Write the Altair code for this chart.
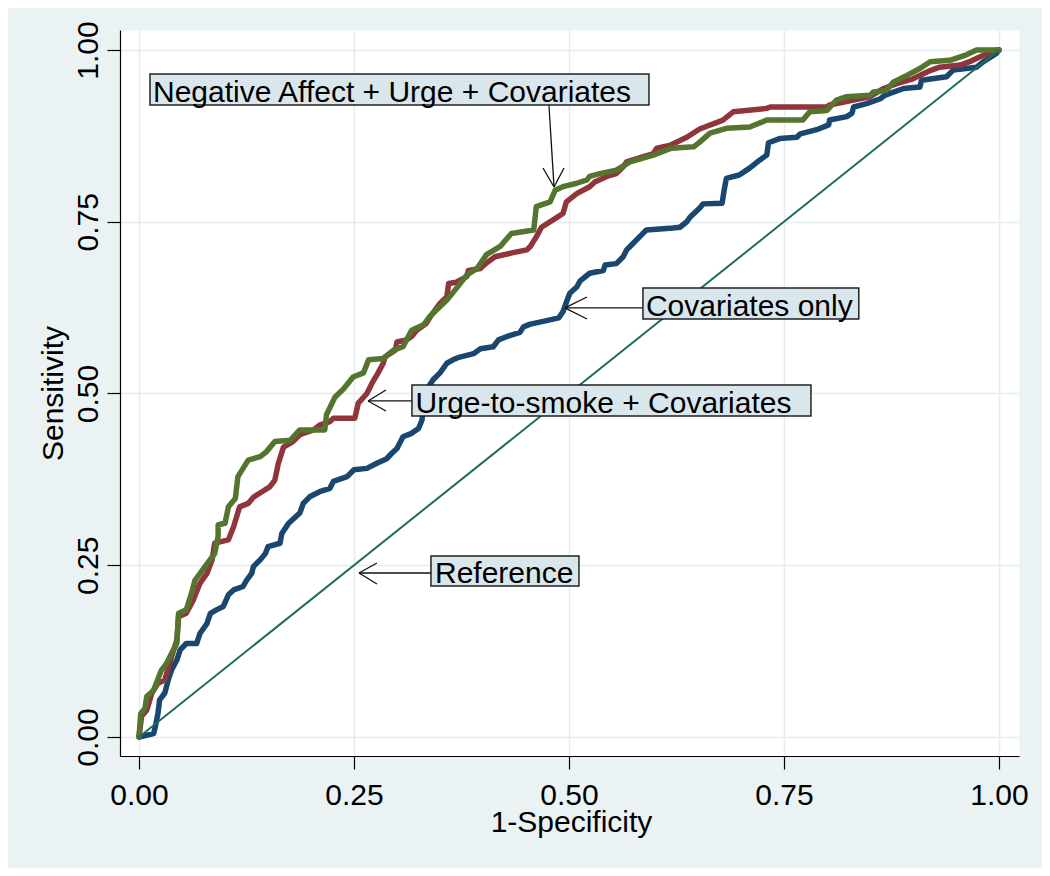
import altair as alt
import pandas as pd

FONT = "Liberation Sans"

# ---- ROC curve data (1-specificity, sensitivity) ----
green_x = [0, 0.002, 0.007, 0.009, 0.017, 0.026, 0.032, 0.038, 0.044, 0.046, 0.055, 0.061, 0.065, 0.071,
           0.079, 0.088, 0.092, 0.092, 0.1, 0.104, 0.112, 0.115, 0.127, 0.141, 0.148, 0.158, 0.176, 0.187,
           0.216, 0.218, 0.228, 0.238, 0.249, 0.261, 0.267, 0.284, 0.296, 0.307, 0.317, 0.331, 0.338, 0.348,
           0.358, 0.369, 0.381, 0.393, 0.404, 0.42, 0.433, 0.459, 0.462, 0.478, 0.484, 0.493, 0.509, 0.521,
           0.524, 0.536, 0.555, 0.571, 0.598, 0.619, 0.645, 0.652, 0.664, 0.683, 0.71, 0.73, 0.772, 0.78,
           0.8, 0.811, 0.823, 0.85, 0.854, 0.869, 0.877, 0.893, 0.908, 0.92, 0.943, 0.962, 0.974, 1.0]
green_y = [0, 0.034, 0.042, 0.059, 0.068, 0.097, 0.107, 0.122, 0.136, 0.18, 0.185, 0.209, 0.228, 0.238,
           0.252, 0.267, 0.292, 0.309, 0.311, 0.335, 0.347, 0.379, 0.403, 0.408, 0.415, 0.43, 0.432, 0.447,
           0.447, 0.469, 0.495, 0.507, 0.524, 0.53, 0.549, 0.551, 0.563, 0.568, 0.592, 0.6, 0.612, 0.624,
           0.636, 0.653, 0.672, 0.682, 0.702, 0.714, 0.733, 0.738, 0.772, 0.779, 0.796, 0.801, 0.806, 0.811,
           0.816, 0.82, 0.825, 0.837, 0.847, 0.857, 0.859, 0.866, 0.879, 0.886, 0.888, 0.898, 0.898, 0.91,
           0.912, 0.927, 0.932, 0.934, 0.939, 0.941, 0.953, 0.963, 0.973, 0.983, 0.985, 0.993, 1.0, 1.0]

red_x = [0, 0.003, 0.009, 0.015, 0.022, 0.03, 0.038, 0.044, 0.046, 0.055, 0.063, 0.071, 0.079, 0.085,
         0.088, 0.094, 0.104, 0.11, 0.117, 0.127, 0.133, 0.143, 0.152, 0.158, 0.162, 0.168, 0.179, 0.187,
         0.203, 0.21, 0.222, 0.226, 0.251, 0.255, 0.265, 0.271, 0.278, 0.284, 0.286, 0.298, 0.3, 0.311,
         0.317, 0.323, 0.334, 0.34, 0.35, 0.358, 0.36, 0.369, 0.381, 0.383, 0.397, 0.404, 0.414, 0.435,
         0.451, 0.455, 0.462, 0.468, 0.482, 0.493, 0.497, 0.509, 0.524, 0.53, 0.544, 0.555, 0.563, 0.567,
         0.579, 0.598, 0.602, 0.617, 0.637, 0.652, 0.679, 0.691, 0.73, 0.734, 0.8, 0.803, 0.831, 0.838,
         0.85, 0.866, 0.881, 0.9, 0.92, 0.931, 0.955, 0.966, 0.978, 0.986, 0.997, 1.0]
red_y = [0, 0.03, 0.039, 0.064, 0.078, 0.083, 0.117, 0.141, 0.175, 0.18, 0.199, 0.224, 0.238, 0.258,
         0.282, 0.284, 0.287, 0.306, 0.335, 0.34, 0.349, 0.357, 0.364, 0.374, 0.398, 0.422, 0.43, 0.44,
         0.447, 0.454, 0.459, 0.464, 0.464, 0.486, 0.5, 0.515, 0.53, 0.544, 0.553, 0.563, 0.575, 0.578,
         0.583, 0.592, 0.602, 0.614, 0.631, 0.641, 0.66, 0.662, 0.67, 0.679, 0.682, 0.69, 0.699, 0.705,
         0.709, 0.714, 0.728, 0.742, 0.753, 0.762, 0.779, 0.791, 0.801, 0.808, 0.816, 0.82, 0.83, 0.837,
         0.842, 0.849, 0.857, 0.861, 0.873, 0.885, 0.898, 0.91, 0.915, 0.917, 0.917, 0.92, 0.927, 0.929,
         0.932, 0.944, 0.951, 0.958, 0.97, 0.975, 0.978, 0.983, 0.99, 0.995, 1.0, 1.0]

blue_x = [0, 0.017, 0.019, 0.022, 0.024, 0.03, 0.034, 0.038, 0.044, 0.048, 0.055, 0.067, 0.071, 0.079,
          0.083, 0.09, 0.098, 0.104, 0.11, 0.121, 0.125, 0.131, 0.133, 0.141, 0.147, 0.15, 0.164, 0.166,
          0.174, 0.187, 0.191, 0.199, 0.21, 0.222, 0.226, 0.242, 0.25, 0.265, 0.276, 0.288, 0.294, 0.3,
          0.307, 0.317, 0.325, 0.329, 0.331, 0.334, 0.342, 0.35, 0.358, 0.365, 0.373, 0.389, 0.397, 0.412,
          0.418, 0.428, 0.443, 0.447, 0.455, 0.474, 0.488, 0.493, 0.497, 0.501, 0.509, 0.513, 0.524, 0.54,
          0.542, 0.555, 0.563, 0.567, 0.571, 0.586, 0.59, 0.621, 0.629, 0.637, 0.641, 0.652, 0.656, 0.678,
          0.681, 0.683, 0.698, 0.71, 0.722, 0.73, 0.732, 0.745, 0.765, 0.769, 0.788, 0.802, 0.803, 0.823,
          0.829, 0.831, 0.846, 0.862, 0.867, 0.889, 0.908, 0.91, 0.939, 0.947, 0.974, 0.982, 0.997, 1.0]
blue_y = [0, 0.005, 0.015, 0.034, 0.054, 0.064, 0.083, 0.098, 0.112, 0.127, 0.136, 0.136, 0.151, 0.165,
          0.18, 0.185, 0.19, 0.207, 0.214, 0.219, 0.228, 0.238, 0.248, 0.258, 0.267, 0.277, 0.282, 0.296,
          0.311, 0.326, 0.34, 0.35, 0.357, 0.362, 0.372, 0.379, 0.389, 0.391, 0.398, 0.405, 0.413, 0.42,
          0.437, 0.442, 0.449, 0.461, 0.481, 0.505, 0.52, 0.53, 0.544, 0.549, 0.553, 0.558, 0.565, 0.568,
          0.578, 0.583, 0.589, 0.597, 0.601, 0.606, 0.61, 0.619, 0.633, 0.646, 0.655, 0.664, 0.675, 0.679,
          0.687, 0.689, 0.699, 0.709, 0.714, 0.733, 0.738, 0.741, 0.742, 0.75, 0.757, 0.77, 0.776, 0.777,
          0.8, 0.813, 0.818, 0.828, 0.84, 0.847, 0.865, 0.871, 0.873, 0.878, 0.884, 0.891, 0.898, 0.903,
          0.908, 0.917, 0.922, 0.929, 0.934, 0.944, 0.946, 0.956, 0.961, 0.971, 0.975, 0.983, 0.995, 1.0]

ref_x = [0, 1]
ref_y = [0, 1]

tick_values = [0, 0.25, 0.5, 0.75, 1.0]

# ---- annotations ----
label_text = ["Negative Affect + Urge + Covariates", "Covariates only",
              "Urge-to-smoke + Covariates", "Reference"]
label_x = [0.0163, 0.5895, 0.3215, 0.3442]
label_y = [0.925, 0.6135, 0.4723, 0.2242]
box_x0 = [0.0128, 0.586, 0.3174, 0.3395]
box_x1 = [0.593, 0.837, 0.7814, 0.5116]
box_y0 = [0.92, 0.6084, 0.4672, 0.2198]
box_y1 = [0.965, 0.6536, 0.5124, 0.2635]

seg_x1 = [0.4767, 0.4698, 0.4942, 0.586, 0.5209, 0.5209, 0.3174, 0.2872, 0.2872, 0.3395, 0.2767, 0.2767]
seg_y1 = [0.92, 0.8282, 0.8282, 0.6245, 0.6405, 0.6084, 0.4891, 0.5051, 0.4745, 0.2387, 0.2533, 0.2227]
seg_x2 = [0.4826, 0.4826, 0.4826, 0.4953, 0.4953, 0.4953, 0.2663, 0.2663, 0.2663, 0.2558, 0.2558, 0.2558]
seg_y2 = [0.8006, 0.8006, 0.8006, 0.6245, 0.6245, 0.6245, 0.4891, 0.4891, 0.4891, 0.2387, 0.2387, 0.2387]

BG = "#EAF2F3"
GRID = "#E3ECEE"

xscale = alt.Scale(domain=[-0.0221, 1.0233], nice=False, zero=False)
yscale = alt.Scale(domain=[-0.0277, 1.0291], nice=False, zero=False)

x_axis = alt.Axis(values=tick_values, format=".2f", title="1-Specificity",
                  tickSize=13, tickColor="black", tickWidth=1.2,
                  domainColor="black", domainWidth=1.2,
                  labelFont=FONT, labelFontSize=30, labelColor="black",
                  labelBaseline="alphabetic", labelPadding=35, labelFlush=False, labelOverlap=False,
                  grid=True, gridColor=GRID, gridWidth=1.5,
                  titleFont=FONT, titleFontSize=30, titleFontWeight="normal", titleColor="black",
                  titleX=451, titleY=75, titleBaseline="alphabetic", titleAlign="center")
y_axis = alt.Axis(values=tick_values, format=".2f", title="Sensitivity",
                  tickSize=13, tickColor="black", tickWidth=1.2,
                  domainColor="black", domainWidth=1.2,
                  labelFont=FONT, labelFontSize=30, labelColor="black",
                  labelAngle=270, labelAlign="center", labelBaseline="alphabetic",
                  labelPadding=10, labelFlush=False, labelOverlap=False,
                  grid=True, gridColor=GRID, gridWidth=1.5,
                  titleFont=FONT, titleFontSize=30, titleFontWeight="normal", titleColor="black",
                  titleAngle=270, titleX=-58, titleY=363, titleBaseline="alphabetic", titleAlign="center")

X = alt.X("x:Q", scale=xscale, axis=x_axis)
Y = alt.Y("y:Q", scale=yscale, axis=y_axis)


def curve_df(xs, ys):
    return pd.DataFrame({"x": xs, "y": ys, "i": list(range(len(xs)))})


def curve(xs, ys, color, width):
    return alt.Chart(curve_df(xs, ys)).mark_line(
        color=color, strokeWidth=width, strokeCap="round", strokeJoin="round"
    ).encode(x=X, y=Y, order="i:Q")


blue = curve(blue_x, blue_y, "#1a476f", 5.5)
red = curve(red_x, red_y, "#90353b", 5.5)
green = curve(green_x, green_y, "#55752f", 5.5)
ref = curve(ref_x, ref_y, "#1f6e5a", 2)

boxes_df = pd.DataFrame({"x": box_x0, "x1": box_x1, "y": box_y0, "y1": box_y1})
boxes = alt.Chart(boxes_df).mark_rect(fill="#D9E6EC", stroke="#222222", strokeWidth=1.5).encode(
    x=X, x2="x1:Q", y=Y, y2="y1:Q",
)

labels_df = pd.DataFrame({"x": label_x, "y": label_y, "t": label_text})
labels = alt.Chart(labels_df).mark_text(
    font=FONT, fontSize=30, color="black", align="left", baseline="alphabetic"
).encode(x=X, y=Y, text="t:N")

seg_df = pd.DataFrame({"x": seg_x1, "y": seg_y1, "x2": seg_x2, "y2": seg_y2})
arrows = alt.Chart(seg_df).mark_rule(color="#111111", strokeWidth=1.3).encode(
    x=X, x2="x2:Q", y=Y, y2="y2:Q",
)

chart = alt.layer(blue, red, green, ref, arrows, boxes, labels).properties(
    width=899, height=726,
    padding={"left": 112, "top": 22, "right": 23, "bottom": 112},
    autosize=alt.AutoSizeParams(type="none"),
    background=BG,
).configure_view(fill="white", stroke="transparent")

chart.save("out.html", embed_options={"renderer": "svg", "actions": False})
